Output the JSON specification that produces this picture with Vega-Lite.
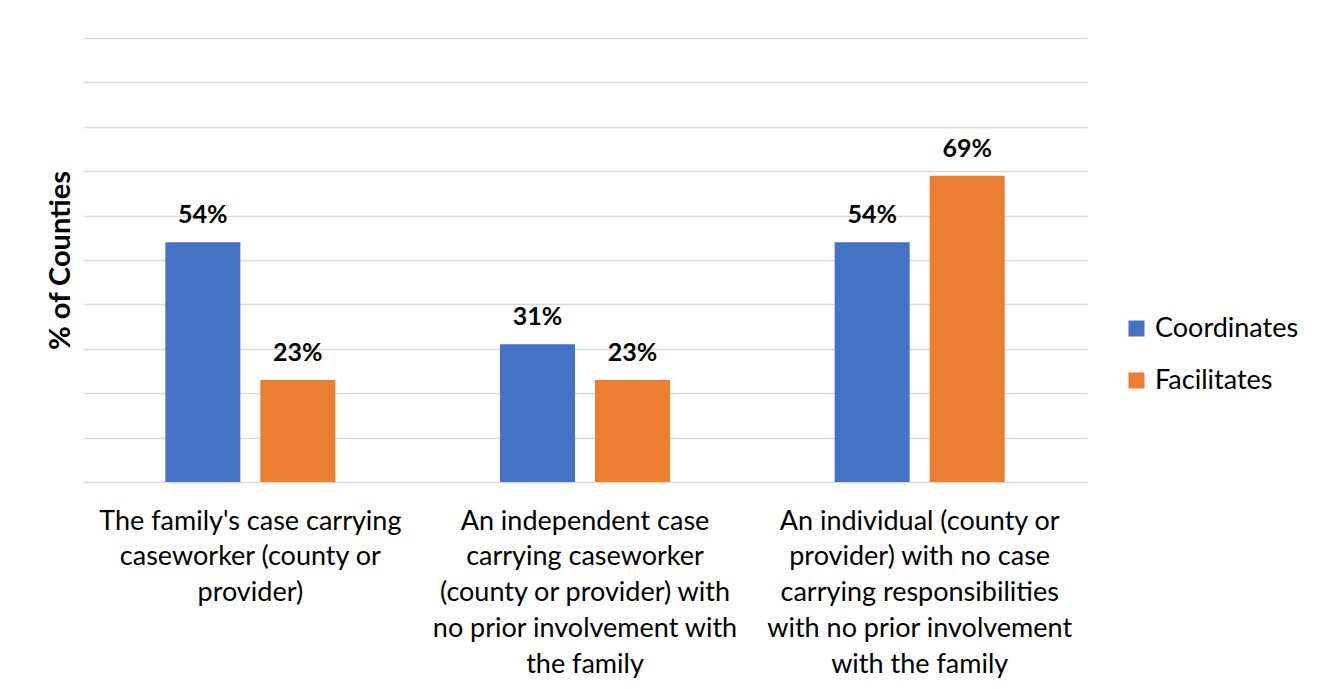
{
  "$schema": "https://vega.github.io/schema/vega-lite/v6.json",
  "width": 1004,
  "height": 444,
  "autosize": {"type": "none"},
  "padding": {"left": 83, "top": 38, "right": 236, "bottom": 207},
  "background": "white",
  "config": {"font": "Lato", "view": {"stroke": null}},
  "data": {
    "values": [
      {"category": "The family's case carrying|caseworker (county or|provider)", "series": "Coordinates", "value": 0.54},
      {"category": "The family's case carrying|caseworker (county or|provider)", "series": "Facilitates", "value": 0.23},
      {"category": "An independent case|carrying caseworker|(county or provider) with|no prior involvement with|the family", "series": "Coordinates", "value": 0.31},
      {"category": "An independent case|carrying caseworker|(county or provider) with|no prior involvement with|the family", "series": "Facilitates", "value": 0.23},
      {"category": "An individual (county or|provider) with no case|carrying responsibilities|with no prior involvement|with the family", "series": "Coordinates", "value": 0.54},
      {"category": "An individual (county or|provider) with no case|carrying responsibilities|with no prior involvement|with the family", "series": "Facilitates", "value": 0.69}
    ]
  },
  "encoding": {
    "x": {
      "field": "category",
      "type": "nominal",
      "sort": null,
      "scale": {"paddingInner": 0.492, "paddingOuter": 0.246},
      "axis": {
        "title": null,
        "labelExpr": "split(datum.label, '|')",
        "labelAngle": 0,
        "labelFontSize": 27,
        "labelColor": "#000000",
        "labelLineHeight": 35.75,
        "labelPadding": 26,
        "labelLimit": 0,
        "ticks": false,
        "domain": false
      }
    },
    "xOffset": {
      "field": "series",
      "type": "nominal",
      "sort": ["Coordinates", "Facilitates"],
      "scale": {"paddingInner": 0.2105, "paddingOuter": 0}
    },
    "y": {
      "field": "value",
      "type": "quantitative",
      "scale": {"domain": [0, 1], "nice": false},
      "axis": {
        "title": "% of Counties",
        "titleFontSize": 29,
        "titleFontWeight": "bold",
        "titleColor": "#000000",
        "titlePadding": 8,
        "labels": false,
        "ticks": false,
        "domain": false,
        "grid": true,
        "gridColor": "#d9d9d9",
        "gridWidth": 1.5,
        "values": [0, 0.1, 0.2, 0.3, 0.4, 0.5, 0.6, 0.7, 0.8, 0.9, 1.0]
      }
    }
  },
  "layer": [
    {
      "mark": {"type": "bar"},
      "encoding": {
        "color": {
          "field": "series",
          "type": "nominal",
          "sort": ["Coordinates", "Facilitates"],
          "scale": {"domain": ["Coordinates", "Facilitates"], "range": ["#4472C4", "#ED7D31"]},
          "legend": {
            "title": null,
            "orient": "none",
            "legendX": 1040,
            "legendY": 277,
            "symbolType": "square",
            "symbolSize": 256,
            "symbolStrokeWidth": 0,
            "labelFontSize": 27,
            "labelColor": "#000000",
            "labelOffset": 5,
            "rowPadding": 24
          }
        }
      }
    },
    {
      "mark": {"type": "text", "baseline": "alphabetic", "dy": -19, "fontSize": 25, "fontWeight": "bold", "color": "#000000"},
      "encoding": {
        "text": {"field": "value", "type": "quantitative", "format": ".0%"}
      }
    }
  ]
}
